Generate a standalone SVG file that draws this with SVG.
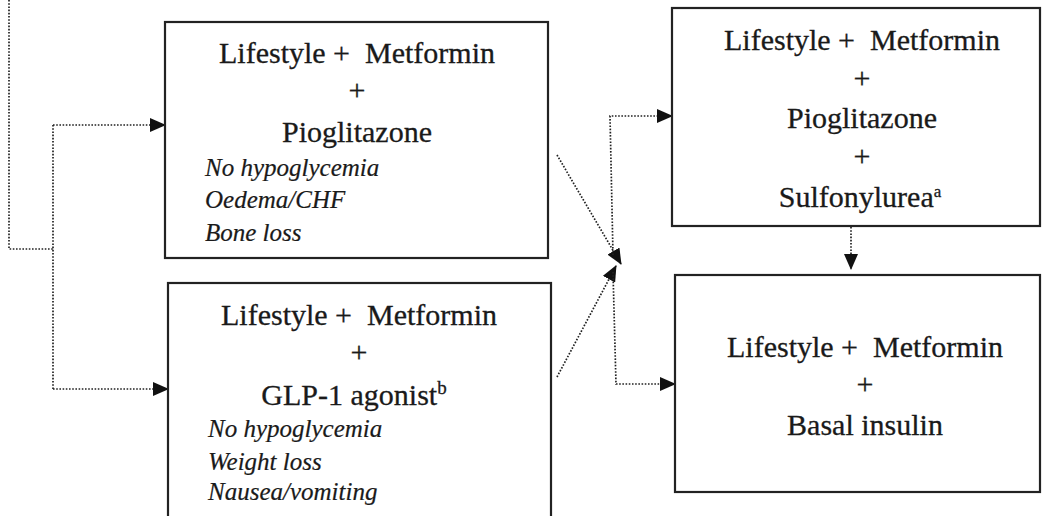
<svg xmlns="http://www.w3.org/2000/svg" width="1042" height="516" viewBox="0 0 1042 516">
<defs>
<style>
.box{fill:#fff;stroke:#222;stroke-width:2.2}
.t{font-family:"Liberation Serif","Times New Roman",serif;font-size:30px;fill:#1a1a1a;stroke:#1a1a1a;stroke-width:0.3;text-anchor:middle;white-space:pre}
.i{font-family:"Liberation Serif","Times New Roman",serif;font-size:25px;font-style:italic;fill:#1a1a1a;stroke:#1a1a1a;stroke-width:0.2}
.c{fill:none;stroke:#222;stroke-width:1.7;stroke-dasharray:1.6 1.6}
</style>
<marker id="ah" viewBox="0 0 16 14" refX="15" refY="7" markerWidth="16" markerHeight="14" markerUnits="userSpaceOnUse" orient="auto">
<path d="M0,0 L16,7 L0,14 Z" fill="#111"/>
</marker>
</defs>
<rect width="1042" height="516" fill="#fff"/>
<g id="connectors">
<path class="c" d="M9,0 V249 H53"/>
<path class="c" d="M53,125 V389"/>
<path class="c" d="M53,125 H165" marker-end="url(#ah)"/>
<path class="c" d="M53,389 H168" marker-end="url(#ah)"/>
<path class="c" d="M557,155 L621,264" marker-end="url(#ah)"/>
<path class="c" d="M557,377 L616,266" marker-end="url(#ah)"/>
<path class="c" d="M613,255 L610,116 H672" marker-end="url(#ah)"/>
<path class="c" d="M613,272 L616,384 H675" marker-end="url(#ah)"/>
<path class="c" d="M851,227 V269" marker-end="url(#ah)"/>
</g>
<g id="node-pioglitazone">
<rect class="box" x="165" y="22" width="383" height="236"/>
<text class="t" x="357" y="63">Lifestyle +  Metformin</text>
<text class="t" x="357" y="100">+</text>
<text class="t" x="357" y="142">Pioglitazone</text>
<text class="i" x="205" y="176">No hypoglycemia</text>
<text class="i" x="205" y="208">Oedema/CHF</text>
<text class="i" x="205" y="241">Bone loss</text>
</g>
<g id="node-glp1">
<rect class="box" x="168" y="283" width="383" height="250"/>
<text class="t" x="359" y="325">Lifestyle +  Metformin</text>
<text class="t" x="359" y="362">+</text>
<text class="t" x="354" y="405">GLP-1 agonist<tspan font-size="19" dy="-11">b</tspan></text>
<text class="i" x="208" y="437">No hypoglycemia</text>
<text class="i" x="208" y="470">Weight loss</text>
<text class="i" x="208" y="500">Nausea/vomiting</text>
</g>
<g id="node-sulfonylurea">
<rect class="box" x="672" y="8" width="368" height="218"/>
<text class="t" x="862" y="50">Lifestyle +  Metformin</text>
<text class="t" x="862" y="88">+</text>
<text class="t" x="862" y="128">Pioglitazone</text>
<text class="t" x="862" y="166">+</text>
<text class="t" x="860" y="207">Sulfonylurea<tspan font-size="17" dy="-10">a</tspan></text>
</g>
<g id="node-insulin">
<rect class="box" x="675" y="275" width="365" height="217"/>
<text class="t" x="865" y="357">Lifestyle +  Metformin</text>
<text class="t" x="865" y="394">+</text>
<text class="t" x="865" y="435">Basal insulin</text>
</g>
</svg>
